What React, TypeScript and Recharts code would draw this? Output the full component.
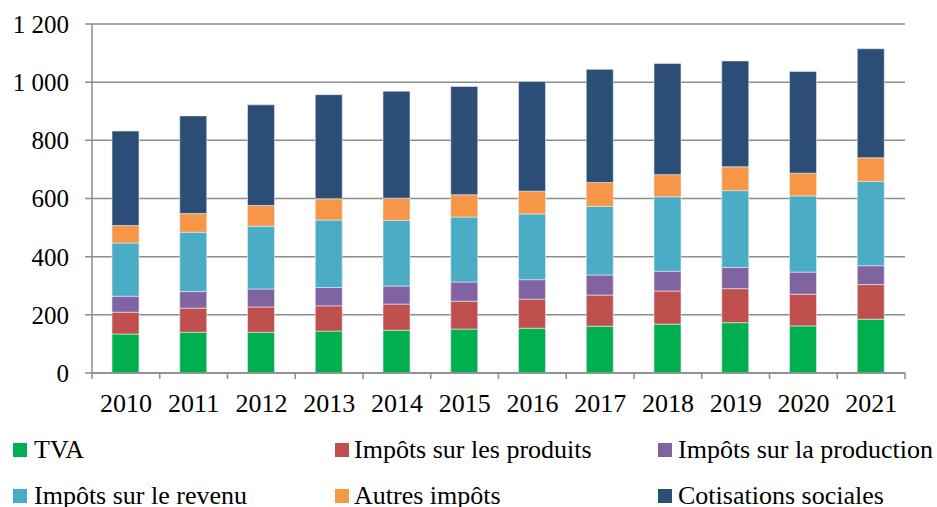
import React from "react";
import { Bar, BarChart, CartesianGrid, XAxis, YAxis } from "recharts";

const years = ["2010", "2011", "2012", "2013", "2014", "2015", "2016", "2017", "2018", "2019", "2020", "2021"];
const tva = [134, 140, 140, 144, 147, 151, 154, 161, 168, 173, 162, 185];
const produits = [75, 83, 87, 87, 90, 96, 100, 107, 114, 117, 109, 119];
const production = [55, 57, 62, 63, 62, 66, 67, 69, 68, 73, 76, 65];
const revenu = [183, 204, 216, 232, 226, 223, 226, 236, 256, 264, 262, 290];
const autres = [60, 64, 71, 73, 76, 77, 78, 82, 76, 82, 78, 81];
const cotisations = [325, 336, 346, 358, 368, 372, 377, 389, 382, 364, 350, 375];
const yTicks = [0, 200, 400, 600, 800, 1000, 1200];

const series = [
  { key: "tva", name: "TVA", color: "#00B050", values: tva },
  { key: "produits", name: "Impôts sur les produits", color: "#C0504D", values: produits },
  { key: "production", name: "Impôts sur la production", color: "#8064A2", values: production },
  { key: "revenu", name: "Impôts sur le revenu", color: "#4BACC6", values: revenu },
  { key: "autres", name: "Autres impôts", color: "#F79646", values: autres },
  { key: "cotisations", name: "Cotisations sociales", color: "#2C4D75", values: cotisations },
];

const data = years.map((year, i) => {
  const row: Record<string, string | number> = { year };
  series.forEach((s) => (row[s.key] = s.values[i]));
  return row;
});

const font = "'Liberation Serif', 'Times New Roman', serif";
const axisGray = "#8c8c8c";

const fmt = (v: number) => String(v).replace(/\B(?=(\d{3})+(?!\d))/g, " ");

function YearTick(props: any) {
  const { x, y, payload, index, visibleTicksCount, width } = props;
  const step = width && visibleTicksCount ? width / visibleTicksCount : 67.7;
  const half = step / 2;
  return (
    <g>
      <line x1={x - half} x2={x - half} y1={y - 6} y2={y} stroke={axisGray} strokeWidth={1.5} />
      {index === visibleTicksCount - 1 && (
        <line x1={x + half} x2={x + half} y1={y - 6} y2={y} stroke={axisGray} strokeWidth={1.5} />
      )}
      <text x={x} y={y + 33} textAnchor="middle" fontSize={26} fontFamily={font} fill="#000">
        {payload.value}
      </text>
    </g>
  );
}

// legend positions: [square left, text left]
const legendCols = [
  [13, 34],
  [335, 354],
  [658, 678],
];

function LegendBox() {
  return (
    <>
      {series.map((s, i) => {
        const [sq, tx] = legendCols[i % 3];
        const top = i < 3 ? 443 : 489;
        return (
          <React.Fragment key={s.key}>
            <div style={{ position: "absolute", left: sq, top, width: 14, height: 14, background: s.color }} />
            <div
              style={{
                position: "absolute",
                left: tx,
                top,
                height: 14,
                lineHeight: "14px",
                fontFamily: font,
                fontSize: 26,
                whiteSpace: "nowrap",
                color: "#000",
              }}
            >
              {s.name}
            </div>
          </React.Fragment>
        );
      })}
    </>
  );
}

export default function App() {
  return (
    <div style={{ position: "absolute", left: 0, top: 0, width: 937, height: 507, background: "#fff" }}>
      <BarChart width={937} height={507} data={data} margin={{ top: 24, right: 32, left: 0, bottom: 94 }} barSize={27}>
        <CartesianGrid horizontal vertical={false} stroke={axisGray} strokeWidth={1.5} />
        <XAxis
          dataKey="year"
          height={40}
          axisLine={{ stroke: axisGray, strokeWidth: 1.5 }}
          tickLine={false}
          tickSize={6}
          tickMargin={0}
          interval={0}
          tick={<YearTick />}
        />
        <YAxis
          width={92}
          domain={[0, 1200]}
          ticks={yTicks}
          tickFormatter={fmt}
          axisLine={{ stroke: axisGray, strokeWidth: 1.5 }}
          tickLine={{ stroke: axisGray, strokeWidth: 1.5 }}
          tickSize={7}
          tickMargin={16}
          tick={{ fontSize: 25, fontFamily: font, fill: "#000" }}
        />
        {series.map((s) => (
          <Bar key={s.key} dataKey={s.key} name={s.name} stackId="a" fill={s.color} stroke="#e8ecf2" strokeWidth={0.6} isAnimationActive={false} />
        ))}
      </BarChart>
      <LegendBox />
    </div>
  );
}
